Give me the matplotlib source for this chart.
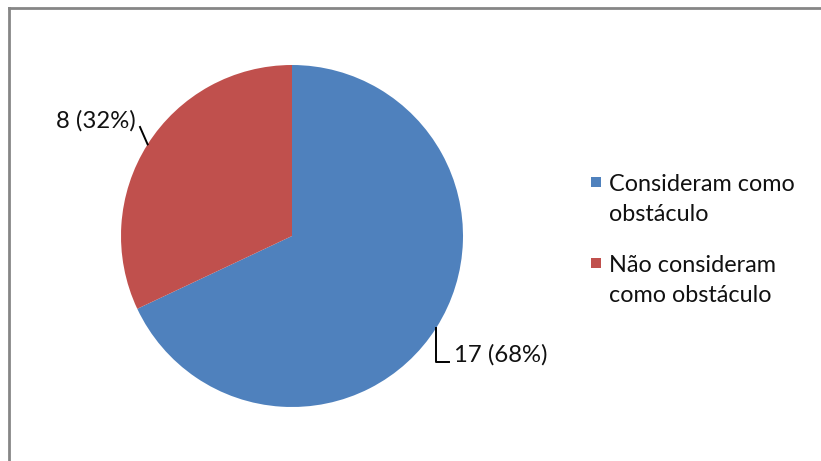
import matplotlib
matplotlib.use("Agg")
import matplotlib.pyplot as plt
from matplotlib.patches import Rectangle
from matplotlib.lines import Line2D
import numpy as np

categories = ["Consideram como\nobstáculo", "Não consideram\ncomo obstáculo"]
counts = [17, 8]
colors = ["#4F81BD", "#C0504D"]

W, H = 821, 461
fig = plt.figure(figsize=(W / 100, H / 100), dpi=100)
ax = fig.add_axes([0, 0, 1, 1])

font = "Lato"
fs_lab = 17.2
fs_leg = 16.8

cx, cy, r = 292, 225, 171
wedges, _ = ax.pie(counts, colors=colors, startangle=90, counterclock=False,
                   center=(cx, cy), radius=r, frame=True,
                   wedgeprops=dict(linewidth=0))
ax.set_xlim(0, W)
ax.set_ylim(0, H)
ax.set_aspect("equal")
ax.axis("off")

total = sum(counts)
labels = [f"{c} ({round(100 * c / total)}%)" for c in counts]

def edge_point(w):
    mid = np.deg2rad((w.theta1 + w.theta2) / 2)
    return cx + r * np.cos(mid), cy + r * np.sin(mid)

# Blue slice label: elbow leader line
bx, by = edge_point(wedges[0])
ax.plot([bx, bx, bx + 13], [by, 99, 99], color="black", lw=1.4)
ax.text(bx + 18, 106, labels[0], fontsize=fs_lab, family=font,
        ha="left", va="center", color="#111111")

# Red slice label: straight leader line
rx, ry = edge_point(wedges[1])
ax.plot([rx, 140], [ry, 334], color="black", lw=1.4)
ax.text(136, 340, labels[1], fontsize=fs_lab, family=font,
        ha="right", va="center", color="#111111")

# Legend
legend_sq = [279, 198]
legend_top = [287, 206]
for col, lab, ys, yt in zip(colors, categories, legend_sq, legend_top):
    ax.add_patch(Rectangle((591, ys - 5), 10, 10, facecolor=col, edgecolor="none"))
    ax.text(609, yt, lab, fontsize=fs_leg, family=font, ha="left", va="top",
            color="#111111", linespacing=1.55)

# Chart frame
fig.add_artist(Line2D([8.5 / W, 1], [1 - 8 / H, 1 - 8 / H], color="#868686", lw=2,
                      transform=fig.transFigure))
fig.add_artist(Line2D([8.5 / W, 8.5 / W], [0, 1 - 8 / H], color="#868686", lw=2,
                      transform=fig.transFigure))

fig.savefig("out.png", dpi=100, facecolor="white")
